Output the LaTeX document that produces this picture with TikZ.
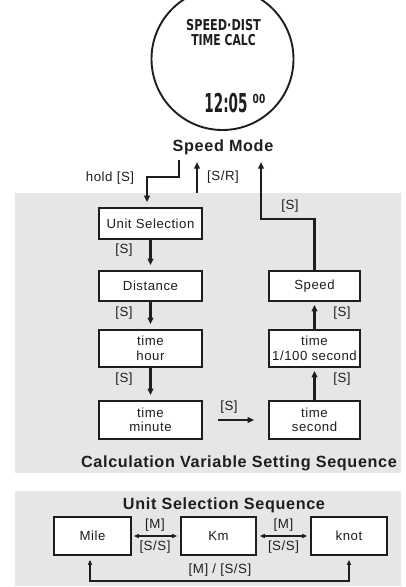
\documentclass[tikz,border=0pt]{standalone}
\usepackage{fontspec}
\setmainfont{Liberation Sans}[LetterSpace=4]
\newfontfamily\lcdfont{DejaVu Sans}
\usetikzlibrary{arrows.meta,calc}
\definecolor{panel}{RGB}{230,230,232}
\definecolor{ink}{RGB}{30,30,30}
\begin{document}
\begin{tikzpicture}[x=1pt,y=-1pt,
  every node/.style={text=ink},
  lbl/.style={font=\fontsize{13.3}{14}\selectfont, inner sep=0},
  title/.style={font=\fontsize{16.2}{18}\selectfont\bfseries, inner sep=0},
  box/.style={draw=ink, line width=1.6pt, fill=white, align=center, font=\fontsize{13.2}{14.5}\selectfont, inner sep=0},
  lbox/.style={box, minimum width=103pt},
  rbox/.style={box, minimum width=91pt},
  ubox/.style={box, minimum width=76pt, minimum height=38pt},
  flow/.style={draw=ink, line width=2.4pt, -{Triangle[length=6.5pt,width=5.5pt]}},
  thinarr/.style={draw=ink, line width=1.3pt, {Triangle[length=5pt,width=4pt]}-{Triangle[length=5pt,width=4pt]}},
]
\useasboundingbox (0,0) rectangle (405,587);
\fill[panel] (15,193) rectangle (401,473);
\fill[panel] (15,491) rectangle (401,586);

% watch
\draw[ink, line width=1.9pt] (222.5,59) circle[radius=71pt];
\node[inner sep=0, align=center, font=\lcdfont\bfseries\fontsize{15}{14.5}\selectfont] (lcdtxt) at (223.5,32.5) {\scalebox{0.75}[1]{SPEED·DIST}\\\scalebox{0.72}[1]{TIME CALC}};
\node[inner sep=0] (clk) at (226,103.5) {\scalebox{0.52}[1]{\lcdfont\bfseries\fontsize{26}{26}\selectfont 12:05}};
\node[inner sep=0] (sec00) at (259,98.5) {\scalebox{0.72}[1]{\lcdfont\bfseries\fontsize{12.5}{12.5}\selectfont 00}};

\node[title] (mode) at (223,147) {Speed Mode};

% boxes
\node[lbox, minimum height=31pt] (us) at (150.5,223.5) {Unit Selection};
\node[lbox, minimum height=30pt] (dist) at (150.5,286) {Distance};
\node[lbox, minimum height=37pt] (hour) at (150.5,348.5) {time\\hour};
\node[lbox, minimum height=38pt] (minute) at (150.5,420) {time\\minute};
\node[rbox, minimum height=30pt] (speed) at (314.5,286) {Speed};
\node[rbox, minimum height=37pt] (hund) at (314.5,348.5) {time\\1/100 second};
\node[rbox, minimum height=38pt] (sec) at (314.5,420) {time\\second};

% arrows to/from mode
\coordinate (hs) at (179,160);
\coordinate (hsb) at (147,177);
\draw[flow, shorten >=5pt] (hs) -- (hs |- hsb) -- (hsb) -- (hsb |- us.north);
\coordinate (sr0) at (197,193);
\coordinate (sr1) at (197,162);
\draw[flow] (sr0) -- (sr1);
\coordinate (rc) at (261,219);
\coordinate (rt) at (261,162);
\draw[flow, line join=miter] (speed.north) |- (rc) -- (rt);

\node[lbl] (lhold) at (110,178) {hold [S]};
\node[lbl] (lsr) at (223,177) {[S/R]};
\node[lbl] (lret) at (290,206) {[S]};

% sequence arrows
\draw[flow, shorten >=5pt] (us) -- (dist);
\draw[flow, shorten >=5pt] (dist) -- (hour);
\draw[flow, shorten >=5pt] (hour) -- (minute);
\draw[flow, shorten <=15pt, shorten >=14pt] (minute) -- (sec);
\draw[flow, shorten >=3pt] (sec) -- (hund);
\draw[flow, shorten >=3pt] (hund) -- (speed);

\node[lbl] (s1) at (124,250) {[S]};
\node[lbl] (s2) at (124,313) {[S]};
\node[lbl] (s3) at (124,379) {[S]};
\node[lbl] (s4) at (229,407) {[S]};
\node[lbl] (s5) at (342,379) {[S]};
\node[lbl] (s6) at (342,313) {[S]};

\node[title] (calc) at (239,463) {Calculation Variable Setting Sequence};

% unit selection sequence
\node[title] (uss) at (224,505) {Unit Selection Sequence};
\node[ubox, minimum width=77pt] (mile) at (92.5,536) {Mile};
\node[ubox, minimum width=75pt] (km) at (218.5,536) {Km};
\node[ubox] (knot) at (349,536) {knot};

\draw[thinarr, shorten <=2pt, shorten >=3pt] (mile) -- (km);
\draw[thinarr, shorten <=3pt, shorten >=3pt] (km) -- (knot);
\coordinate (lb) at (90,581);
\draw[thinarr, shorten <=4pt, shorten >=4pt] (mile.south -| lb) -- (lb) -- (lb -| knot.south) -- (knot.south);

\node[lbl] (m1) at (155,525) {[M]};
\node[lbl] (ss1) at (155,547) {[S/S]};
\node[lbl] (m2) at (283.5,525) {[M]};
\node[lbl] (ss2) at (283.5,547) {[S/S]};
\node[lbl] (mss) at (220,570) {[M] / [S/S]};
\end{tikzpicture}
\end{document}
